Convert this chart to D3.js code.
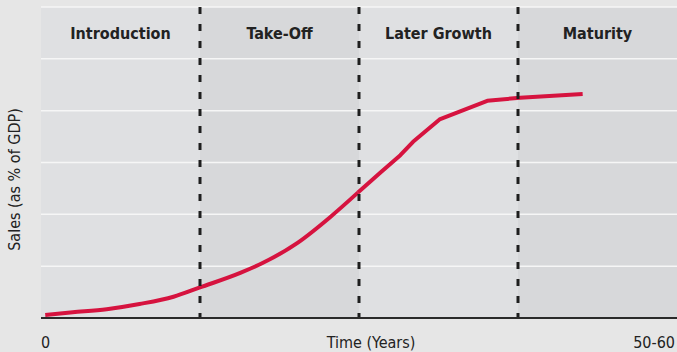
<!DOCTYPE html>
<html>
<head>
<meta charset="utf-8">
<script src="https://cdn.jsdelivr.net/npm/d3@7"></script>
<style>
  body { margin: 0; background: #e6e6e6; }
  text { font-family: "DejaVu Sans Condensed", "DejaVu Sans", sans-serif; fill: #222; }
</style>
</head>
<body>
<div id="chart"></div>
<script>
// phases of the product life cycle (years)
var phases = ["Introduction", "Take-Off", "Later Growth", "Maturity"];
var phaseStart = [0, 15, 30, 45];
var phaseEnd = [15, 30, 45, 60];

// sales curve
var years = [0.4, 3.0, 6.2, 9.3, 12.5, 15.0, 18.8, 20.9, 24.2, 27.3, 29.9, 32.0, 33.9, 35.1, 37.6, 42.1, 45.2, 51.1];
var sales = [0.06, 0.11, 0.17, 0.27, 0.41, 0.59, 0.87, 1.06, 1.45, 1.95, 2.42, 2.80, 3.14, 3.40, 3.83, 4.19, 4.25, 4.32];
// the smooth part of the curve ends here, the rest is drawn straight
var smoothEnd = 11;

var gridValues = [1, 2, 3, 4, 5, 6];
var xTickLabels = ["0", "50-60"];

var margin = {top: 7, right: 0, bottom: 34, left: 41},
    width = 677 - margin.left - margin.right,
    height = 352 - margin.top - margin.bottom;

var svg = d3.select("#chart").append("svg")
    .attr("width", 677)
    .attr("height", 352)
    .append("g")
    .attr("transform", "translate(" + margin.left + "," + margin.top + ")");

var x = d3.scaleLinear().domain([0, 60]).range([0, width]);
var y = d3.scaleLinear().domain([0, 6]).range([height, 0]);

var data = years.map(function (d, i) { return {year: d, value: sales[i]}; });

// phase bands
svg.selectAll(".band")
    .data(phases)
    .enter().append("rect")
    .attr("class", "band")
    .attr("x", function (d, i) { return x(phaseStart[i]); })
    .attr("y", 0)
    .attr("width", function (d, i) { return x(phaseEnd[i]) - x(phaseStart[i]); })
    .attr("height", height)
    .attr("fill", function (d, i) { return i % 2 ? "#d7d8da" : "#dfe0e2"; });

// grid lines
svg.selectAll(".grid")
    .data(gridValues)
    .enter().append("line")
    .attr("class", "grid")
    .attr("x1", 0)
    .attr("x2", width)
    .attr("y1", function (d) { return y(d); })
    .attr("y2", function (d) { return y(d); })
    .attr("stroke", "#f6f6f6")
    .attr("stroke-width", 1.5);

// phase labels
svg.selectAll(".phase-label")
    .data(phases)
    .enter().append("text")
    .attr("class", "phase-label")
    .attr("x", function (d, i) { return (x(phaseStart[i]) + x(phaseEnd[i])) / 2; })
    .attr("y", (y(6) + y(5)) / 2 + 6)
    .attr("text-anchor", "middle")
    .style("font-size", "16px")
    .style("font-weight", 700)
    .text(function (d) { return d; });

// sales line
var smoothLine = d3.line()
    .x(function (d) { return x(d.year); })
    .y(function (d) { return y(d.value); })
    .curve(d3.curveMonotoneX);

var straightLine = d3.line()
    .x(function (d) { return x(d.year); })
    .y(function (d) { return y(d.value); });

[[smoothLine, data.slice(0, smoothEnd)], [straightLine, data.slice(smoothEnd - 1)]].forEach(function (p) {
    svg.append("path")
        .datum(p[1])
        .attr("d", p[0])
        .attr("fill", "none")
        .attr("stroke", "#d6133f")
        .attr("stroke-width", 4)
        .attr("stroke-linejoin", "round");
});

// phase dividers
svg.selectAll(".divider")
    .data(phaseStart.slice(1))
    .enter().append("line")
    .attr("class", "divider")
    .attr("x1", function (d) { return x(d); })
    .attr("x2", function (d) { return x(d); })
    .attr("y1", 0)
    .attr("y2", height)
    .attr("stroke", "#1e1e1e")
    .attr("stroke-width", 3)
    .attr("stroke-dasharray", "7,10");

// x axis
svg.append("line")
    .attr("x1", 0)
    .attr("x2", width)
    .attr("y1", height)
    .attr("y2", height)
    .attr("stroke", "#2a2a2a")
    .attr("stroke-width", 2);

svg.append("text")
    .attr("x", x(0))
    .attr("y", height + 30)
    .style("font-size", "16px")
    .text(xTickLabels[0]);

svg.append("text")
    .attr("x", x(60) - 2)
    .attr("y", height + 30)
    .attr("text-anchor", "end")
    .style("font-size", "16px")
    .text(xTickLabels[1]);

svg.append("text")
    .attr("x", 330)
    .attr("y", height + 30)
    .attr("text-anchor", "middle")
    .style("font-size", "16px")
    .text("Time (Years)");

// y axis label
svg.append("text")
    .attr("transform", "translate(" + (-21) + "," + (y(3) + 17) + ") rotate(-90)")
    .attr("text-anchor", "middle")
    .style("font-size", "16px")
    .text("Sales (as % of GDP)");
</script>
</body>
</html>
